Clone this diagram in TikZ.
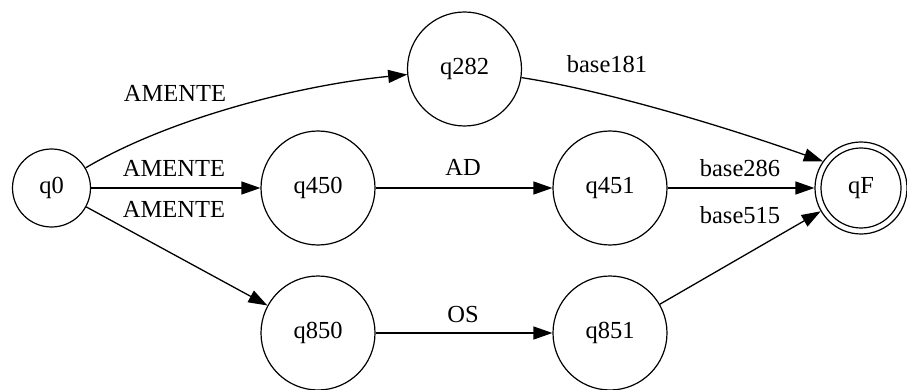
\documentclass[tikz,border=0pt]{standalone}
\usepackage{fontspec}
\setmainfont{Liberation Serif}
\usetikzlibrary{arrows.meta}

\begin{document}
\begin{tikzpicture}[
    x=1pt, y=-1pt,
    every node/.style={font=\fontsize{24.5}{28}\selectfont},
    state/.style={circle, draw, line width=1.2pt, inner sep=0pt},
    small/.style={state, minimum size=78pt},
    big/.style={state, minimum size=114pt},
    final/.style={state, minimum size=92pt},
    edge/.style={line width=1.3pt, -{Triangle[length=19pt, width=13pt]}},
    lbl/.style={anchor=base, inner sep=0pt}
  ]
  \useasboundingbox (0,0) rectangle (907,390);

  % states
  \node[small] (q0)   at (51.5,188) {q0};
  \node[big]   (q282) at (464.5,69) {q282};
  \node[big]   (q450) at (318,188)  {q450};
  \node[big]   (q451) at (610,188)  {q451};
  \node[big]   (q850) at (318,333)  {q850};
  \node[big]   (q851) at (610,333)  {q851};
  \node[final] (qF)   at (861,188)  {qF};
  \draw[line width=1.2pt] (qF.center) circle (40);

  % transitions
  \draw[edge] (q0) .. controls (170,118) and (300,85) .. (q282);
  \draw[edge] (q0) -- (q450);
  \draw[edge] (q0) -- (q850);
  \draw[edge] (q450) -- (q451);
  \draw[edge] (q850) -- (q851);
  \draw[edge] (q282) .. controls (590,88) and (700,118) .. (qF.145);
  \draw[edge] (q451) -- (qF);
  \draw[edge] (q851) -- (qF);

  % transition labels
  \node[lbl] (l1) at (175,102) {AMENTE};
  \node[lbl] (l2) at (174,177) {AMENTE};
  \node[lbl] (l3) at (174,217) {AMENTE};
  \node[lbl] (l4) at (463,176) {AD};
  \node[lbl] (l5) at (463,322) {OS};
  \node[lbl] (l6) at (607,73)  {base181};
  \node[lbl] (l7) at (740,177) {base286};
  \node[lbl] (l8) at (740,223) {base515};
\end{tikzpicture}
\end{document}
